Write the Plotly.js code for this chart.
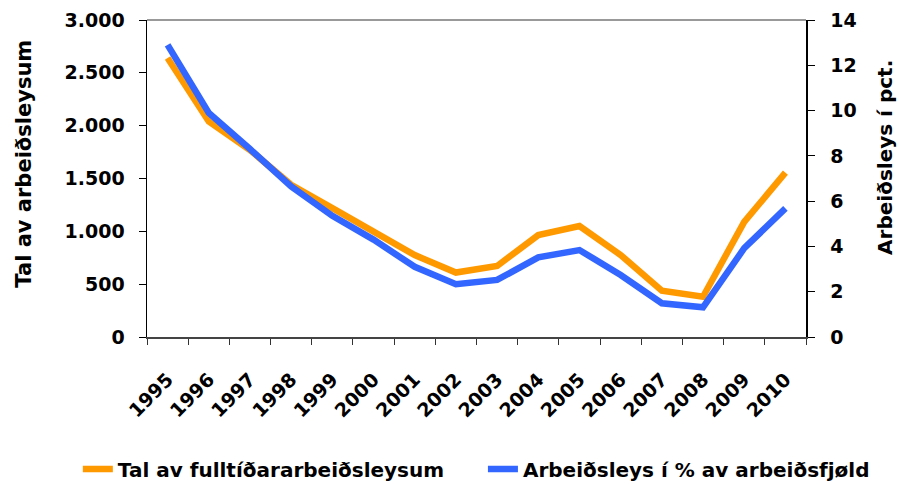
<!DOCTYPE html>
<html>
<head>
<meta charset="utf-8">
<script src="https://cdn.plot.ly/plotly-3.0.1.min.js"></script>
<style>html,body{margin:0;padding:0;background:#fff;}#chart{width:901px;height:484px;}</style>
</head>
<body>
<div id="chart"></div>
<script>
const years = ["1995","1996","1997","1998","1999","2000","2001","2002","2003","2004","2005","2006","2007","2008","2009","2010"];
const fulltimeUnemployed = [2640, 2040, 1770, 1440, 1220, 1005, 775, 610, 672, 965, 1050, 776, 438, 381, 1090, 1555];
const unemploymentPct = [12.9, 9.9, 8.3, 6.65, 5.35, 4.3, 3.1, 2.33, 2.52, 3.52, 3.84, 2.74, 1.49, 1.31, 3.92, 5.68];
const seriesNames = ["Tal av fulltíðararbeiðsleysum", "Arbeiðsleys í % av arbeiðsfjøld"];
const axisTitles = ["Tal av arbeiðsleysum", "Arbeiðsleys í pct."];
const leftTicks = [0, 500, 1000, 1500, 2000, 2500, 3000];
const leftTickText = ["0", "500", "1.000", "1.500", "2.000", "2.500", "3.000"];
const rightTicks = [0, 2, 4, 6, 8, 10, 12, 14];

const FAM = "DejaVu Sans, Verdana, sans-serif";
const TF = {family: FAM, size: 19, color: "#000", weight: 700};
const LF = {family: FAM, size: 20, color: "#000", weight: 700};

const traces = [
  {x: years, y: fulltimeUnemployed, name: seriesNames[0], type: "scatter", mode: "lines",
   line: {color: "#FF9900", width: 6.5}, yaxis: "y", legend: "legend"},
  {x: years, y: unemploymentPct, name: seriesNames[1], type: "scatter", mode: "lines",
   line: {color: "#3366FF", width: 6.5}, yaxis: "y2", legend: "legend2"}
];

const legendBase = {orientation: "h", xref: "container", yref: "container", xanchor: "left",
                    y: 0.031, yanchor: "middle", font: LF, bgcolor: "rgba(0,0,0,0)"};

const layout = {
  width: 901, height: 484,
  margin: {l: 147, r: 95, t: 20, b: 147, autoexpand: false},
  paper_bgcolor: "#fff", plot_bgcolor: "#fff",
  font: TF,
  showlegend: true,
  legend: Object.assign({}, legendBase, {x: 0.0864}),
  legend2: Object.assign({}, legendBase, {x: 0.536}),
  xaxis: {type: "category", range: [-0.5, 15.5], tickangle: -45, tickson: "boundaries",
          ticks: "outside", ticklen: 6, tickcolor: "#333", tickwidth: 1,
          showline: true, linecolor: "#444", linewidth: 2, showgrid: false, zeroline: false,
          tickfont: TF, ticklabelstandoff: 22, automargin: false},
  yaxis: {range: [0, 3000], tickvals: leftTicks, ticktext: leftTickText,
          ticks: "outside", ticklen: 7, tickcolor: "#000", showline: true, linecolor: "#000",
          linewidth: 1.5, showgrid: false, zeroline: false, tickfont: TF, ticklabelstandoff: 10,
          automargin: false},
  yaxis2: {range: [0, 14], tickvals: rightTicks, overlaying: "y", side: "right",
           ticks: "outside", ticklen: 7, tickcolor: "#000", showline: true, linecolor: "#000",
           linewidth: 1.5, showgrid: false, zeroline: false, tickfont: TF, ticklabelstandoff: 12,
           automargin: false},
  annotations: [
    {text: axisTitles[0], xref: "paper", yref: "paper", x: -0.1866, y: 0.547,
     xanchor: "center", yanchor: "middle", textangle: -90, showarrow: false,
     font: {family: FAM, size: 21, color: "#000", weight: 700}},
    {text: axisTitles[1], xref: "paper", yref: "paper", x: 1.1396, y: 0.568,
     xanchor: "right", yanchor: "middle", textangle: -90, showarrow: false, borderpad: 0, font: LF}
  ],
  shapes: [{type: "line", xref: "paper", yref: "paper", x0: 0, x1: 1, y0: 1, y1: 1,
            line: {color: "#999", width: 2}}]
};

Plotly.newPlot("chart", traces, layout, {displayModeBar: false, staticPlot: true});
</script>
</body>
</html>
